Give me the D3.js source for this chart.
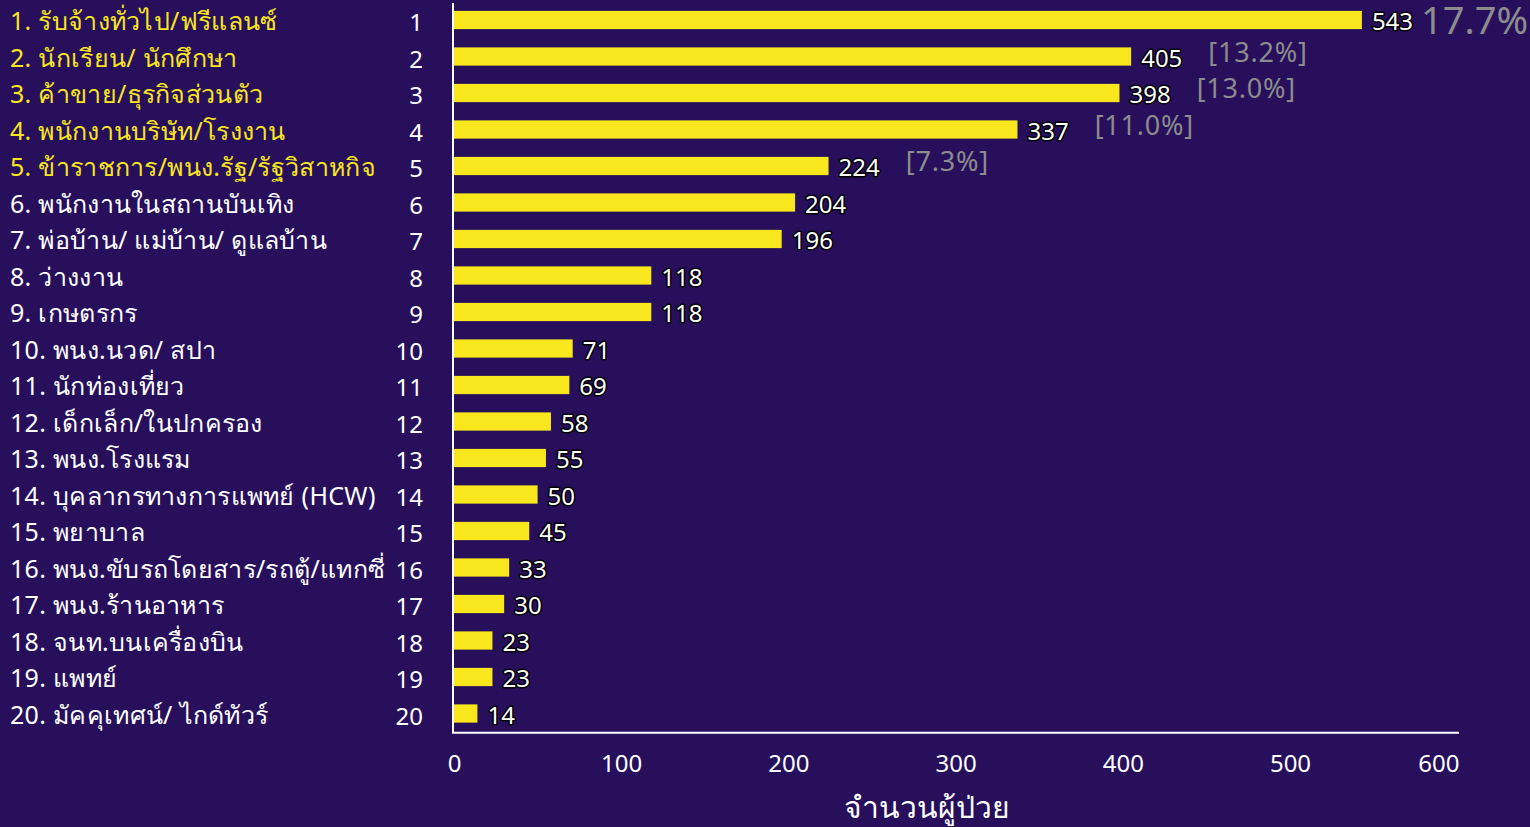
<!DOCTYPE html>
<html>
<head>
<meta charset="utf-8">
<script src="https://cdn.jsdelivr.net/npm/d3@7"></script>
<style>
  html, body { margin: 0; padding: 0; background: #270f5c; }
  svg { display: block; }
  text { font-family: "Noto Sans", "Open Sans", sans-serif; }
</style>
</head>
<body>
<svg id="chart" width="1530" height="827"></svg>
<script>
// Occupations of reported patients, ranked by count
const occupations = [
  "1. รับจ้างทั่วไป/ฟรีแลนซ์",
  "2. นักเรียน/ นักศึกษา",
  "3. ค้าขาย/ธุรกิจส่วนตัว",
  "4. พนักงานบริษัท/โรงงาน",
  "5. ข้าราชการ/พนง.รัฐ/รัฐวิสาหกิจ",
  "6. พนักงานในสถานบันเทิง",
  "7. พ่อบ้าน/ แม่บ้าน/ ดูแลบ้าน",
  "8. ว่างงาน",
  "9. เกษตรกร",
  "10. พนง.นวด/ สปา",
  "11. นักท่องเที่ยว",
  "12. เด็กเล็ก/ในปกครอง",
  "13. พนง.โรงแรม",
  "14. บุคลากรทางการแพทย์ (HCW)",
  "15. พยาบาล",
  "16. พนง.ขับรถโดยสาร/รถตู้/แทกซี่",
  "17. พนง.ร้านอาหาร",
  "18. จนท.บนเครื่องบิน",
  "19. แพทย์",
  "20. มัคคุเทศน์/ ไกด์ทัวร์"
];
const ranks = ["1","2","3","4","5","6","7","8","9","10","11","12","13","14","15","16","17","18","19","20"];
const patients = [543, 405, 398, 337, 224, 204, 196, 118, 118, 71, 69, 58, 55, 50, 45, 33, 30, 23, 23, 14];
const shareLabels = ["17.7%", "[13.2%]", "[13.0%]", "[11.0%]", "[7.3%]"];
const xTicks = [0, 100, 200, 300, 400, 500, 600];
const axisTitle = "จำนวนผู้ป่วย";

const svg = d3.select("#chart");
const margin = { left: 454, right: 1459, top: 1.75, bottom: 731.75 };

const x = d3.scaleLinear().domain([0, 600]).range([margin.left, margin.left + 600 * 1.672]);
const y = d3.scaleBand().domain(ranks).range([margin.top, margin.bottom])
  .paddingInner(0.5).paddingOuter(0.25);

const rows = ranks.map((r, i) => ({ rank: r, name: occupations[i], value: patients[i], i }));

// bars
svg.append("g").selectAll("rect").data(rows).join("rect")
  .attr("x", x(0))
  .attr("y", d => y(d.rank))
  .attr("width", d => x(d.value) - x(0))
  .attr("height", y.bandwidth())
  .attr("fill", "#f8e71c");

// axis lines
svg.append("line")
  .attr("x1", margin.left - 1).attr("x2", margin.left - 1)
  .attr("y1", 3).attr("y2", margin.bottom + 1)
  .attr("stroke", "#ffffff").attr("stroke-width", 2);
svg.append("line")
  .attr("x1", margin.left - 2).attr("x2", margin.right)
  .attr("y1", margin.bottom + 1).attr("y2", margin.bottom + 1)
  .attr("stroke", "#ffffff").attr("stroke-width", 2);

// x tick labels
const xAxis = d3.axisBottom(x).tickValues(xTicks).tickSize(0).tickPadding(0);
const gx = svg.append("g").attr("transform", `translate(0,${margin.bottom + 40})`).call(xAxis);
gx.select(".domain").remove();
gx.selectAll("text")
  .attr("fill", "#ffffff")
  .attr("font-size", 24)
  .attr("dy", "0")
  .attr("y", 0)
  .attr("text-anchor", (d, i) => i === xTicks.length - 1 ? "end" : "middle")
  .attr("x", (d, i) => i === xTicks.length - 1 ? margin.right - x(d) : 0);

// axis title
svg.append("text")
  .attr("x", x(283))
  .attr("y", 818)
  .attr("text-anchor", "middle")
  .attr("fill", "#ffffff")
  .attr("font-size", 30)
  .text(axisTitle);

// category names (top five highlighted)
svg.append("g").selectAll("text").data(rows).join("text")
  .attr("x", 10)
  .attr("y", d => y(d.rank) + y.bandwidth() / 2 + 10)
  .attr("fill", d => d.i < 5 ? "#f8e71c" : "#ffffff")
  .attr("font-size", 25)
  .attr("letter-spacing", 0.3)
  .text(d => d.name);

// rank numbers
svg.append("g").selectAll("text").data(rows).join("text")
  .attr("x", 423)
  .attr("y", d => y(d.rank) + y.bandwidth() / 2 + 11)
  .attr("text-anchor", "end")
  .attr("fill", "#ffffff")
  .attr("font-size", 24)
  .text(d => d.rank);

// value labels
const valueLabels = svg.append("g").selectAll("text").data(rows).join("text")
  .attr("x", d => x(d.value) + 10)
  .attr("y", d => y(d.rank) + y.bandwidth() / 2 + 10)
  .attr("fill", "#ffffff")
  .attr("stroke", "#000000")
  .attr("stroke-width", 3)
  .attr("stroke-linejoin", "round")
  .attr("paint-order", "stroke")
  .attr("font-size", 24)
  .text(d => d.value);

// share labels for the top five
const labelNodes = valueLabels.nodes();
svg.append("g").selectAll("text").data(shareLabels).join("text")
  .attr("x", (s, i) => {
    const n = labelNodes[i];
    const end = +n.getAttribute("x") + n.getComputedTextLength();
    return end + (i === 0 ? 8 : 26);
  })
  .attr("y", (s, i) => y(ranks[i]) + y.bandwidth() / 2 + (i === 0 ? 14 : 5))
  .attr("fill", "#8c8c8c")
  .attr("font-size", (s, i) => i === 0 ? 38 : 27)
  .attr("letter-spacing", (s, i) => i === 0 ? 0 : 0.8)
  .text(s => s);
</script>
</body>
</html>
